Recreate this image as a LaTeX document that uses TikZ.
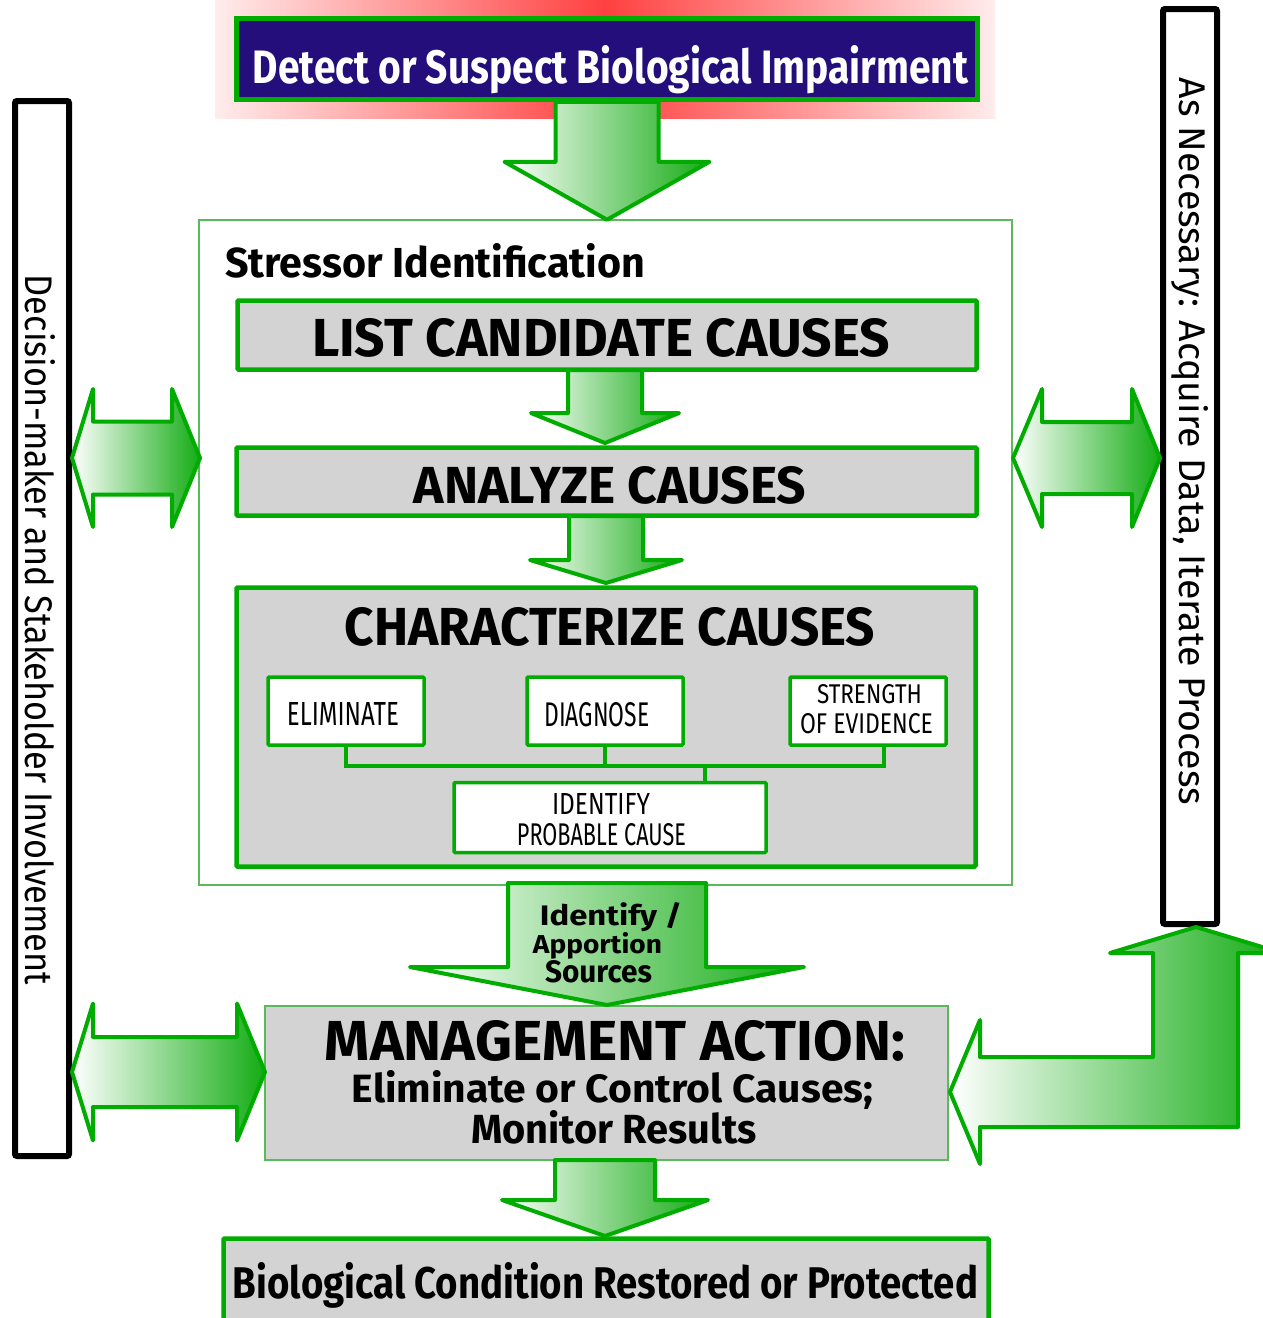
\documentclass[tikz,border=0pt]{standalone}
\usepackage{fontspec}
\usepackage{graphicx}
\setmainfont{Fira Sans}
\definecolor{agreen}{RGB}{0,172,0}
\definecolor{shadegreen}{RGB}{20,172,20}
\definecolor{thingreen}{RGB}{90,185,90}
\definecolor{boxgray}{RGB}{211,211,211}
\definecolor{navy}{RGB}{35,14,124}
\definecolor{glowred}{RGB}{255,64,64}
\definecolor{glowedge}{RGB}{255,236,236}
% squeeze a text into a given width and height (in pt)
\newcommand{\fitto}[3]{\resizebox{#1pt}{#2pt}{#3}}
\tikzset{
  thickbox/.style={draw=agreen, line width=4.5pt, fill=boxgray, inner sep=0pt, rounded corners=1pt},
  framebox/.style={draw=thingreen, line width=1.5pt, inner sep=0pt},
  mgmtbox/.style={draw=thingreen, line width=1.5pt, fill=boxgray, inner sep=0pt},
  subbox/.style={draw=agreen, line width=3.5pt, fill=white, inner sep=0pt, rounded corners=1pt},
  sidebox/.style={draw=black, line width=6pt, fill=white, inner sep=0pt, rounded corners=2pt},
  busline/.style={draw=agreen, line width=3.5pt},
  blockarrow/.style={draw=agreen, line width=4pt, line join=round, left color=white, right color=shadegreen},
  lbl/.style={inner sep=0pt, anchor=base},
  pics/downarrow/.style n args={4}{code={
    \path[blockarrow] (-#1,0) -- (#1,0) -- (#1,#3-#4) -- (#2,#3-#4) -- (0,#3)
      -- (-#2,#3-#4) -- (-#1,#3-#4) -- cycle;
  }},
  pics/dblarrow/.style n args={5}{code={
    \path[blockarrow] (0,0) -- (#4,-#3) -- (#4,-#2) -- (#1-#5,-#2) -- (#1-#5,-#3)
      -- (#1,0) -- (#1-#5,#3) -- (#1-#5,#2) -- (#4,#2) -- (#4,#3) -- cycle;
  }},
}
\begin{document}
\begin{tikzpicture}[x=1pt,y=-1pt]
\fill[white] (0,0) rectangle (1263,1318);
\clip (0,0) rectangle (1263,1318);

% red glow behind the heading
\shade[left color=glowedge, right color=glowedge, middle color=glowred] (215,0) rectangle (995,118);

% heading
\node[draw=agreen, line width=4.5pt, fill=navy, inner sep=0pt, minimum width=741pt, minimum height=81pt] (detect) at (607,59) {};
\node[lbl, text=white] (detectT) at (610.5,83) {\fitto{715}{38}{\bfseries Detect or Suspect Biological Impairment}};

% side columns
\node[sidebox, minimum width=54pt, minimum height=1055pt] (decision) at (42,628.5) {};
\node[lbl, rotate=-90] (decisionT) at (26,630) {\fitto{710}{30}{Decision-maker and Stakeholder Involvement}};
\node[sidebox, minimum width=54pt, minimum height=915pt] (necessary) at (1190,466.5) {};
\node[lbl, rotate=-90] (necessaryT) at (1179,441.5) {\fitto{727}{29}{As Necessary: Acquire Data, Iterate Process}};

% stressor identification frame
\node[framebox, minimum width=813pt, minimum height=665pt] (stressor) at (605.5,552.5) {};
\node[inner sep=0pt, anchor=base west] (stressorT) at (225,277) {\fitto{420}{34}{\bfseries Stressor Identification}};

\node[thickbox, minimum width=739pt, minimum height=69pt] (list) at (607,335) {};
\node[lbl] (listT) at (601,356) {\fitto{578}{38}{\bfseries LIST CANDIDATE CAUSES}};

\node[thickbox, minimum width=740pt, minimum height=68pt] (analyze) at (606.5,481.5) {};
\node[lbl] (analyzeT) at (610,503) {\fitto{392}{37}{\bfseries ANALYZE CAUSES}};

\node[thickbox, minimum width=739pt, minimum height=279pt] (character) at (606,727) {};
\node[lbl] (characterT) at (610,645) {\fitto{530}{38}{\bfseries CHARACTERIZE CAUSES}};

% the three lines of evidence and the conclusion
\node[subbox, minimum width=156pt, minimum height=68pt] (elim) at (346,711) {};
\node[lbl] (elimT) at (343,725) {\fitto{112}{23}{ELIMINATE}};
\node[subbox, minimum width=156pt, minimum height=68pt] (diag) at (605,711) {};
\node[lbl] (diagT) at (597,726) {\fitto{105}{24}{DIAGNOSE}};
\node[subbox, minimum width=156pt, minimum height=68pt] (soe) at (868,711) {};
\node[lbl] (soeT1) at (869.5,703) {\fitto{105}{19}{STRENGTH}};
\node[lbl] (soeT2) at (866.5,733) {\fitto{133}{20}{OF EVIDENCE}};
\node[subbox, minimum width=312pt, minimum height=70pt] (ident) at (610,817.5) {};
\node[lbl] (identT1) at (601,814) {\fitto{98}{21}{IDENTIFY}};
\node[lbl] (identT2) at (601.5,845) {\fitto{169}{22}{PROBABLE CAUSE}};

\coordinate (bus) at (705,766);
\coordinate (soeDrop) at ([xshift=16pt]soe.south);
\draw[busline] (elim.south) |- (bus);
\draw[busline] (soeDrop) |- (bus);
\draw[busline] (diag.south) -- (diag.south |- bus);
\draw[busline] (bus) -- (bus |- ident.north);

% management action
\node[mgmtbox, minimum width=683pt, minimum height=154pt] (mgmt) at (606.5,1083) {};
\node[lbl] (mgmtT1) at (615,1060) {\fitto{580}{40}{\bfseries MANAGEMENT ACTION:}};
\node[lbl] (mgmtT2) at (612.5,1102) {\fitto{521}{32}{\bfseries Eliminate or Control Causes;}};
\node[lbl] (mgmtT3) at (614,1143) {\fitto{286}{33}{\bfseries Monitor Results}};

% outcome
\node[thickbox, minimum width=765pt, minimum height=90pt] (outcome) at (606,1283.5) {};
\node[lbl] (outcomeT) at (605.5,1298) {\fitto{745}{36}{\bfseries Biological Condition Restored or Protected}};

% block arrows between the steps
\pic at (detect.south) {downarrow={51.5}{102.5}{118}{58}};
\pic at (605,370) {downarrow={37}{74}{73}{30}};
\pic at (606,516) {downarrow={37}{76}{67}{23}};
\pic at (607,883) {downarrow={99}{197}{122}{38}};
\pic at (605,1160) {downarrow={50}{103}{76}{36}};

\node[lbl] (srcT1) at (611,925) {\fitto{142}{23}{\bfseries Identify /}};
\node[lbl] (srcT2) at (597.5,953) {\fitto{129}{21}{\bfseries Apportion}};
\node[lbl] (srcT3) at (598.5,982) {\fitto{107}{22}{\bfseries Sources}};

% two-way exchanges with the side columns
\pic at (72,458) {dblarrow={128}{36.5}{69}{21}{28}};
\pic at (72,1072) {dblarrow={193}{35}{68.5}{21}{28}};
\pic at (1013,458) {dblarrow={147}{36}{69}{29}{28}};

% feedback from management action back to data acquisition
\path[blockarrow] (950,1092) -- (980,1020) -- (980,1057) -- (1153,1057) -- (1153,953)
  -- (1110,953) -- (1196,927) -- (1282,953) -- (1238,953) -- (1238,1127)
  -- (980,1127) -- (980,1164) -- cycle;
\end{tikzpicture}
\end{document}
